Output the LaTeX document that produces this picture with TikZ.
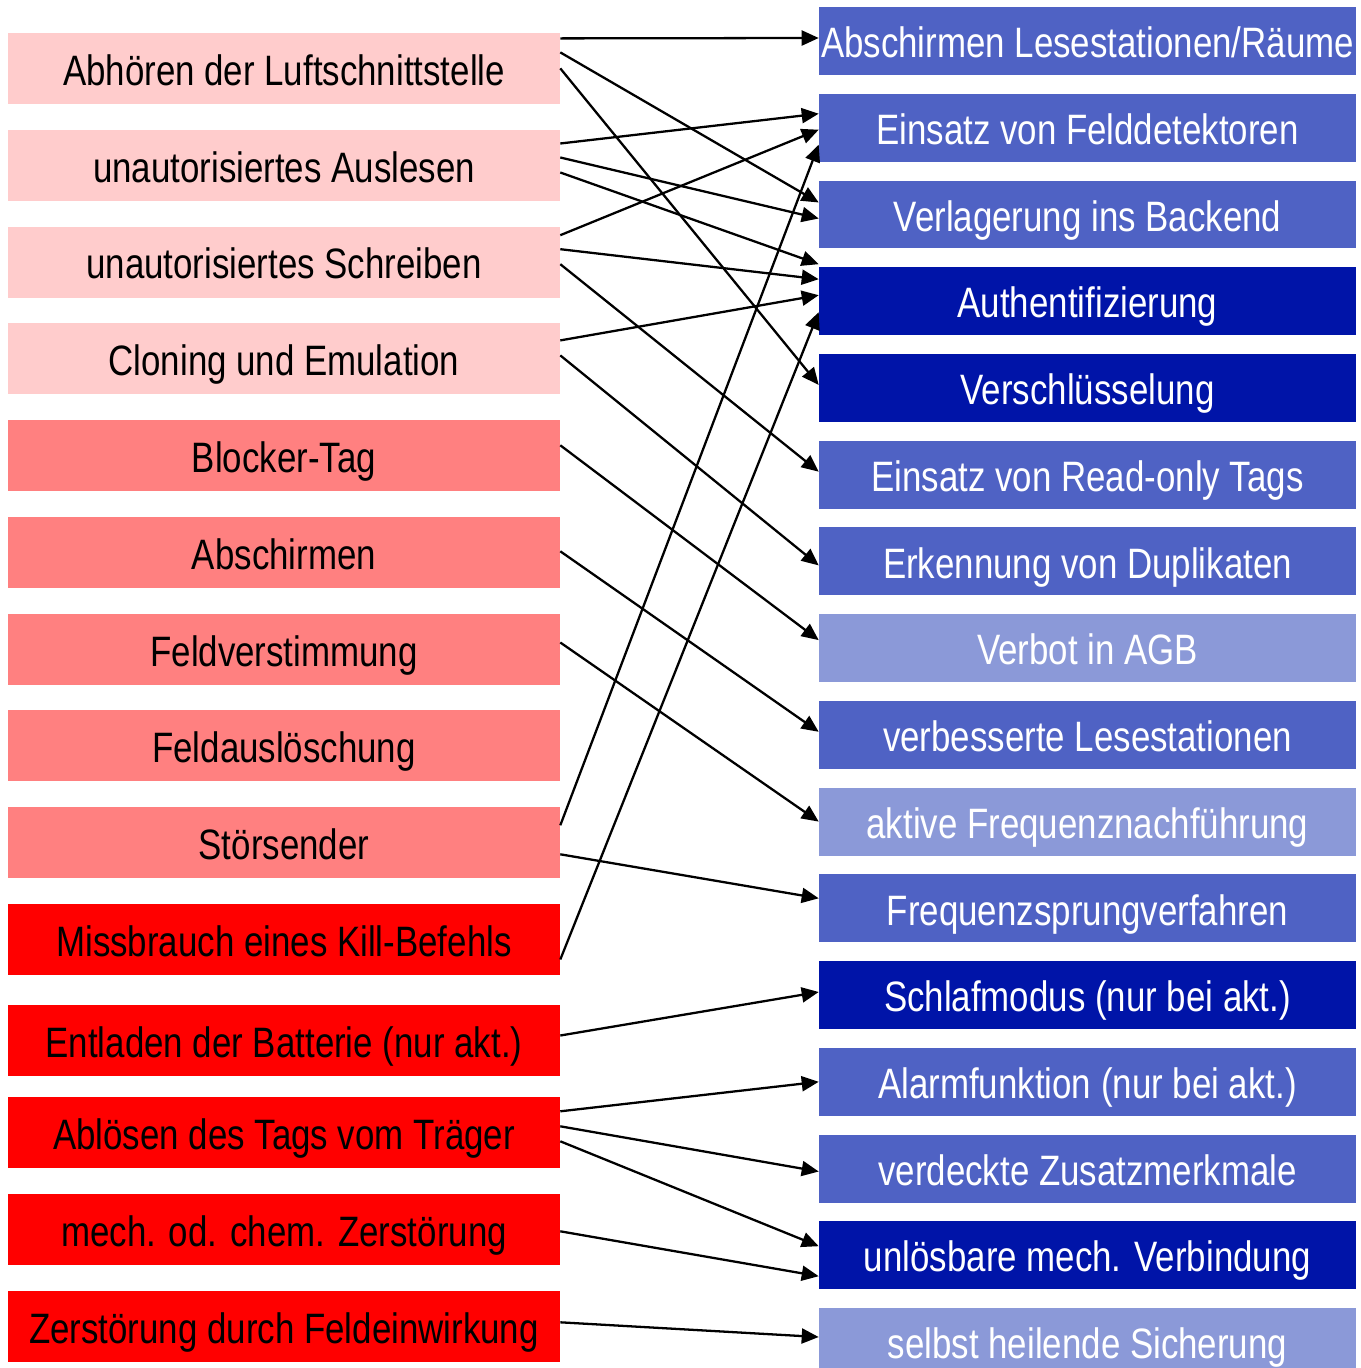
\documentclass[tikz,border=0pt]{standalone}
\usepackage{fontspec}
\setmainfont{Liberation Sans}[FakeStretch=0.82]
\usetikzlibrary{calc,arrows.meta}

\definecolor{rosa}{HTML}{FFCCCC}
\definecolor{lachs}{HTML}{FF8080}
\definecolor{rot}{HTML}{FF0000}
\definecolor{blaumittel}{HTML}{4F62C4}
\definecolor{blaudunkel}{HTML}{0014A8}
\definecolor{blauhell}{HTML}{8B99D8}

\tikzset{
	bedrohung/.style={rectangle, inner sep=0pt, minimum width=11.04cm, minimum height=1.42cm, text=black, text height=0.67cm, text depth=0pt, font=\fontsize{24.2}{29}\selectfont},
	massnahme/.style={rectangle, inner sep=0pt, minimum width=10.74cm, minimum height=1.36cm, text=white, text height=0.67cm, text depth=0pt, font=\fontsize{24.2}{29}\selectfont},
	pfeil/.style={-{Triangle[length=0.34cm, width=0.3cm]}, line width=1.3pt}
}

\begin{document}
\begin{tikzpicture}[x=0.02cm, y=-0.02cm]
		\useasboundingbox (0, 0) rectangle (1360, 1368);
		\clip (0, 0) rectangle (1360, 1368);
		
		%%%%% BEDROHUNGEN %%%%%
		\node[bedrohung, fill=rosa] (t1) at (284, 68.4) {Abhören der Luftschnittstelle};
		\node[bedrohung, fill=rosa] (t2) at (284, 165.5) {unautorisiertes Auslesen};
		\node[bedrohung, fill=rosa] (t3) at (284, 262.2) {unautorisiertes Schreiben};
		\node[bedrohung, fill=rosa] (t4) at (284, 358.4) {Cloning und Emulation};
		\node[bedrohung, fill=lachs] (t5) at (284, 455.3) {Blocker-Tag};
		\node[bedrohung, fill=lachs] (t6) at (284, 552.3) {Abschirmen};
		\node[bedrohung, fill=lachs] (t7) at (284, 649.5) {Feldverstimmung};
		\node[bedrohung, fill=lachs] (t8) at (284, 745.3) {Feldauslöschung};
		\node[bedrohung, fill=lachs] (t9) at (284, 842.3) {Störsender};
		\node[bedrohung, fill=rot] (t10) at (284, 939.5) {Missbrauch eines Kill-Befehls};
		\node[bedrohung, fill=rot] (t11) at (284, 1040.5) {Entladen der Batterie (nur akt.)};
		\node[bedrohung, fill=rot] (t12) at (284, 1132.3) {Ablösen des Tags vom Träger};
		\node[bedrohung, fill=rot] (t13) at (284, 1229.3) {mech. od. chem. Zerstörung};
		\node[bedrohung, fill=rot] (t14) at (284, 1326.3) {Zerstörung durch Feldeinwirkung};
		
		%%%%% MASSNAHMEN %%%%%
		\node[massnahme, fill=blaumittel] (m1) at (1087.5, 41) {Abschirmen Lesestationen/Räume};
		\node[massnahme, fill=blaumittel] (m2) at (1087.5, 127.7) {Einsatz von Felddetektoren};
		\node[massnahme, fill=blaumittel] (m3) at (1087.5, 214.5) {Verlagerung ins Backend};
		\node[massnahme, fill=blaudunkel] (m4) at (1087.5, 301.2) {Authentifizierung};
		\node[massnahme, fill=blaudunkel] (m5) at (1087.5, 387.9) {Verschlüsselung};
		\node[massnahme, fill=blaumittel] (m6) at (1087.5, 474.7) {Einsatz von Read-only Tags};
		\node[massnahme, fill=blaumittel] (m7) at (1087.5, 561.4) {Erkennung von Duplikaten};
		\node[massnahme, fill=blauhell] (m8) at (1087.5, 648.1) {Verbot in AGB};
		\node[massnahme, fill=blaumittel] (m9) at (1087.5, 734.8) {verbesserte Lesestationen};
		\node[massnahme, fill=blauhell] (m10) at (1087.5, 821.6) {aktive Frequenznachführung};
		\node[massnahme, fill=blaumittel] (m11) at (1087.5, 908.3) {Frequenzsprungverfahren};
		\node[massnahme, fill=blaudunkel] (m12) at (1087.5, 995) {Schlafmodus (nur bei akt.)};
		\node[massnahme, fill=blaumittel] (m13) at (1087.5, 1081.8) {Alarmfunktion (nur bei akt.)};
		\node[massnahme, fill=blaumittel] (m14) at (1087.5, 1168.5) {verdeckte Zusatzmerkmale};
		\node[massnahme, fill=blaudunkel] (m15) at (1087.5, 1255.2) {unlösbare mech. Verbindung};
		\node[massnahme, fill=blauhell] (m16) at (1087.5, 1342) {selbst heilende Sicherung};
		
		%%%%% PFEILE %%%%%
		\draw[pfeil] ($(t1.east)+(0, -30)$) -- ($(m1.west)+(0, -3)$);
		\draw[pfeil] ($(t1.east)+(0, -16)$) -- ($(m3.west)+(0, -12)$);
		\draw[pfeil] ($(t1.east)+(0, 0)$) -- ($(m5.west)+(0, -3)$);
		\draw[pfeil] ($(t2.east)+(0, -22)$) -- ($(m2.west)+(0, -14)$);
		\draw[pfeil] ($(t2.east)+(0, -8)$) -- ($(m3.west)+(0, 4)$);
		\draw[pfeil] ($(t2.east)+(0, 7)$) -- ($(m4.west)+(0, -37)$);
		\draw[pfeil] ($(t3.east)+(0, -27)$) -- ($(m2.west)+(0, 2)$);
		\draw[pfeil] ($(t3.east)+(0, -13)$) -- ($(m4.west)+(0, -22)$);
		\draw[pfeil] ($(t3.east)+(0, 2)$) -- ($(m6.west)+(0, -3)$);
		\draw[pfeil] ($(t4.east)+(0, -18)$) -- ($(m4.west)+(0, -6)$);
		\draw[pfeil] ($(t4.east)+(0, -3)$) -- ($(m7.west)+(0, 4)$);
		\draw[pfeil] ($(t5.east)+(0, -10)$) -- ($(m8.west)+(0, -8)$);
		\draw[pfeil] ($(t6.east)+(0, -1)$) -- ($(m9.west)+(0, -3)$);
		\draw[pfeil] ($(t7.east)+(0, -7)$) -- ($(m10.west)+(0, 0)$);
		\draw[pfeil] ($(t9.east)+(0, -17)$) -- ($(m2.west)+(0, 17)$);
		\draw[pfeil] ($(t9.east)+(0, 12)$) -- ($(m11.west)+(0, -10)$);
		\draw[pfeil] ($(t10.east)+(0, 20)$) -- ($(m4.west)+(0, 11)$);
		\draw[pfeil] ($(t11.east)+(0, -5)$) -- ($(m12.west)+(0, -3)$);
		\draw[pfeil] ($(t12.east)+(0, -21)$) -- ($(m13.west)+(0, 0)$);
		\draw[pfeil] ($(t12.east)+(0, -6)$) -- ($(m14.west)+(0, 3)$);
		\draw[pfeil] ($(t12.east)+(0, 9)$) -- ($(m15.west)+(0, -9)$);
		\draw[pfeil] ($(t13.east)+(0, 2)$) -- ($(m15.west)+(0, 21)$);
		\draw[pfeil] ($(t14.east)+(0, -4)$) -- ($(m16.west)+(0, -5)$);
		
	\end{tikzpicture}
\end{document}
